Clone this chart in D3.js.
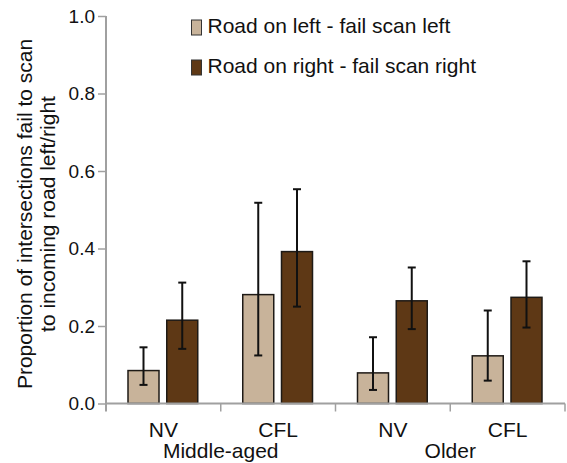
<!DOCTYPE html>
<html>
<head>
<meta charset="utf-8">
<script src="https://cdn.jsdelivr.net/npm/d3@7"></script>
<style>
  body { margin: 0; background: #fff; }
  text { font-family: "Liberation Sans", Arial, sans-serif; fill: #111; }
</style>
</head>
<body>
<div id="chart"></div>
<script>
// data
const groups = ["Middle-aged", "Older"];
const conditions = ["NV", "CFL"];
const seriesNames = ["Road on left - fail scan left", "Road on right - fail scan right"];
const seriesColors = ["#c8b39a", "#5e3815"];

// order: MA-NV, MA-CFL, Old-NV, Old-CFL
const leftValues  = [0.085, 0.281, 0.079, 0.123];
const leftLow     = [0.048, 0.124, 0.035, 0.059];
const leftHigh    = [0.145, 0.518, 0.171, 0.240];
const rightValues = [0.215, 0.392, 0.265, 0.274];
const rightLow    = [0.141, 0.250, 0.192, 0.196];
const rightHigh   = [0.312, 0.553, 0.351, 0.367];

const yTicks = [0, 0.2, 0.4, 0.6, 0.8, 1.0];

const width = 567, height = 463;
const margin = { top: 16, right: 2, bottom: 59.5, left: 106 };
const innerW = width - margin.left - margin.right;
const innerH = height - margin.top - margin.bottom;

const svg = d3.select("#chart").append("svg")
    .attr("width", width)
    .attr("height", height);

const g = svg.append("g")
    .attr("transform", `translate(${margin.left},${margin.top})`);

const cells = [];
groups.forEach(gr => conditions.forEach(c => cells.push(gr + "|" + c)));

const x = d3.scaleBand().domain(cells).range([0, innerW]).padding(0);
const xSub = d3.scaleBand().domain([0, 1]).range([22, x.bandwidth() - 23]).paddingInner(0.2);
const y = d3.scaleLinear().domain([0, 1]).range([innerH, 0]);

const series = [
    { vals: leftValues, lo: leftLow, hi: leftHigh },
    { vals: rightValues, lo: rightLow, hi: rightHigh }
];

// bars + error bars
series.forEach((s, si) => {
    const rows = cells.map((c, i) => ({ c, v: s.vals[i], lo: s.lo[i], hi: s.hi[i] }));
    g.selectAll(".bar" + si).data(rows).enter().append("rect")
        .attr("x", d => x(d.c) + xSub(si))
        .attr("y", d => y(d.v))
        .attr("width", xSub.bandwidth())
        .attr("height", d => y(0) - y(d.v))
        .attr("fill", seriesColors[si])
        .attr("stroke", "#1e1a16")
        .attr("stroke-width", 1.5);

    const eb = g.selectAll(".eb" + si).data(rows).enter().append("g")
        .attr("stroke", "#111")
        .attr("stroke-width", 2);
    const cx = d => x(d.c) + xSub(si) + xSub.bandwidth() / 2;
    eb.append("line").attr("x1", cx).attr("x2", cx)
        .attr("y1", d => y(d.lo)).attr("y2", d => y(d.hi));
    eb.append("line").attr("x1", d => cx(d) - 4).attr("x2", d => cx(d) + 4)
        .attr("y1", d => y(d.hi)).attr("y2", d => y(d.hi));
    eb.append("line").attr("x1", d => cx(d) - 4).attr("x2", d => cx(d) + 4)
        .attr("y1", d => y(d.lo)).attr("y2", d => y(d.lo));
});

// y axis
const yAxis = d3.axisLeft(y).tickValues(yTicks).tickFormat(d3.format(".1f")).tickSize(8).tickPadding(3);
const yg = g.append("g").call(yAxis);
yg.select(".domain").attr("stroke", "#a0a0a0").attr("stroke-width", 2)
    .attr("d", `M0,0V${innerH + 8}`);
yg.selectAll(".tick line").attr("stroke", "#a0a0a0").attr("stroke-width", 1.5);
yg.selectAll(".tick text").attr("font-size", 19).style("fill", "#111")
    .attr("font-family", "Liberation Sans, Arial, sans-serif");

// x axis
const xg = g.append("g").attr("transform", `translate(0,${innerH})`);
xg.append("line").attr("x1", 0).attr("x2", innerW).attr("y1", 0).attr("y2", 0)
    .attr("stroke", "#a0a0a0").attr("stroke-width", 2);
cells.forEach((c, i) => {
    xg.append("line")
        .attr("x1", x(c) + x.bandwidth()).attr("x2", x(c) + x.bandwidth())
        .attr("y1", 0).attr("y2", 8)
        .attr("stroke", "#a0a0a0").attr("stroke-width", 1.5);
    xg.append("text")
        .attr("x", x(c) + x.bandwidth() / 2)
        .attr("y", 33.5)
        .attr("text-anchor", "middle")
        .attr("font-size", 21)
        .text(c.split("|")[1]);
});
groups.forEach(gr => {
    const first = x(gr + "|" + conditions[0]);
    const last = x(gr + "|" + conditions[conditions.length - 1]) + x.bandwidth();
    xg.append("text")
        .attr("x", (first + last) / 2)
        .attr("y", 54.5)
        .attr("text-anchor", "middle")
        .attr("font-size", 21)
        .text(gr);
});

// y label
const yLabel = svg.append("text")
    .attr("transform", `translate(0,214) rotate(-90)`)
    .attr("text-anchor", "middle")
    .attr("font-size", 21);
yLabel.append("tspan").attr("x", 0).attr("y", 32).text("Proportion of intersections fail to scan");
yLabel.append("tspan").attr("x", 0).attr("y", 55).text("to incoming road left/right");

// legend
const legend = svg.append("g").attr("transform", "translate(191.5,20)");
seriesNames.forEach((name, i) => {
    legend.append("rect")
        .attr("x", 0).attr("y", i * 40)
        .attr("width", 10).attr("height", 15)
        .attr("fill", seriesColors[i])
        .attr("stroke", "#333").attr("stroke-width", 1);
    legend.append("text")
        .attr("x", 16).attr("y", i * 40 + 13)
        .attr("font-size", 21)
        .text(name);
});
</script>
</body>
</html>
